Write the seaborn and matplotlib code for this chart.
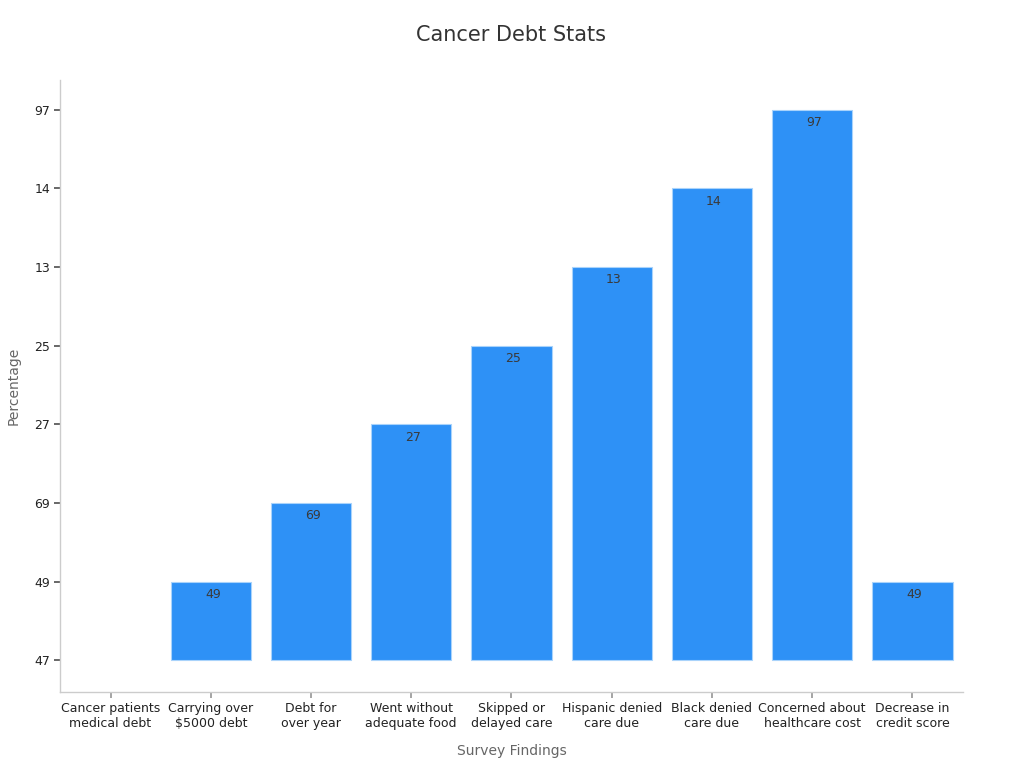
import numpy as np
import pandas as pd
import matplotlib
matplotlib.use("Agg")
import matplotlib.pyplot as plt
import seaborn as sns

categories = [
    "Cancer patients\nmedical debt",
    "Carrying over\n$5000 debt",
    "Debt for\nover year",
    "Went without\nadequate food",
    "Skipped or\ndelayed care",
    "Hispanic denied\ncare due",
    "Black denied\ncare due",
    "Concerned about\nhealthcare cost",
    "Decrease in\ncredit score",
]
values = ["47", "49", "69", "27", "25", "13", "14", "97", "49"]

# y axis is categorical: levels in order of first appearance
levels = list(dict.fromkeys(values))
level_pos = [levels.index(v) for v in values]

df = pd.DataFrame({"finding": categories, "value": values, "pos": level_pos})

sns.set_theme(style="white")
plt.rcParams["font.family"] = ["DejaVu Sans"]

fig, ax = plt.subplots(figsize=(10.24, 7.68), dpi=100)
sns.barplot(data=df, x="finding", y="pos", color="#2e91f6", saturation=1,
            width=0.8, edgecolor="#a9d3fb", linewidth=0.8, ax=ax)
# hide the outline of the empty (zero height) bar
for patch in ax.patches:
    if patch.get_height() == 0:
        patch.set_linewidth(0)

for i, (p, v) in enumerate(zip(level_pos, values)):
    if p > 0:
        ax.text(i + 0.02, p - 0.08, v, ha="center", va="top", fontsize=9, color="#3a3a3a")

ax.set_yticks(range(len(levels)))
ax.set_yticklabels(levels, fontsize=9, color="#222222")
ax.set_ylim(-0.4, len(levels) - 1 + 0.38)
ax.set_xlim(-0.5, len(categories) - 0.5)
ax.tick_params(axis="x", labelsize=9, colors="#222222", length=4, color="#999999", bottom=True)
ax.tick_params(axis="y", length=4, color="#555555", left=True)

ax.set_xlabel("Survey Findings", fontsize=10, color="#666666", labelpad=10)
ax.set_ylabel("Percentage", fontsize=10, color="#666666", labelpad=10)
ax.set_title("Cancer Debt Stats", fontsize=15, color="#333333", pad=28)

sns.despine(ax=ax)
for s in ["left", "bottom"]:
    ax.spines[s].set_color("#cccccc")
    ax.spines[s].set_linewidth(1)

plt.subplots_adjust(left=0.059, right=0.94, top=0.896, bottom=0.099)
fig.savefig("out.png", dpi=100)
